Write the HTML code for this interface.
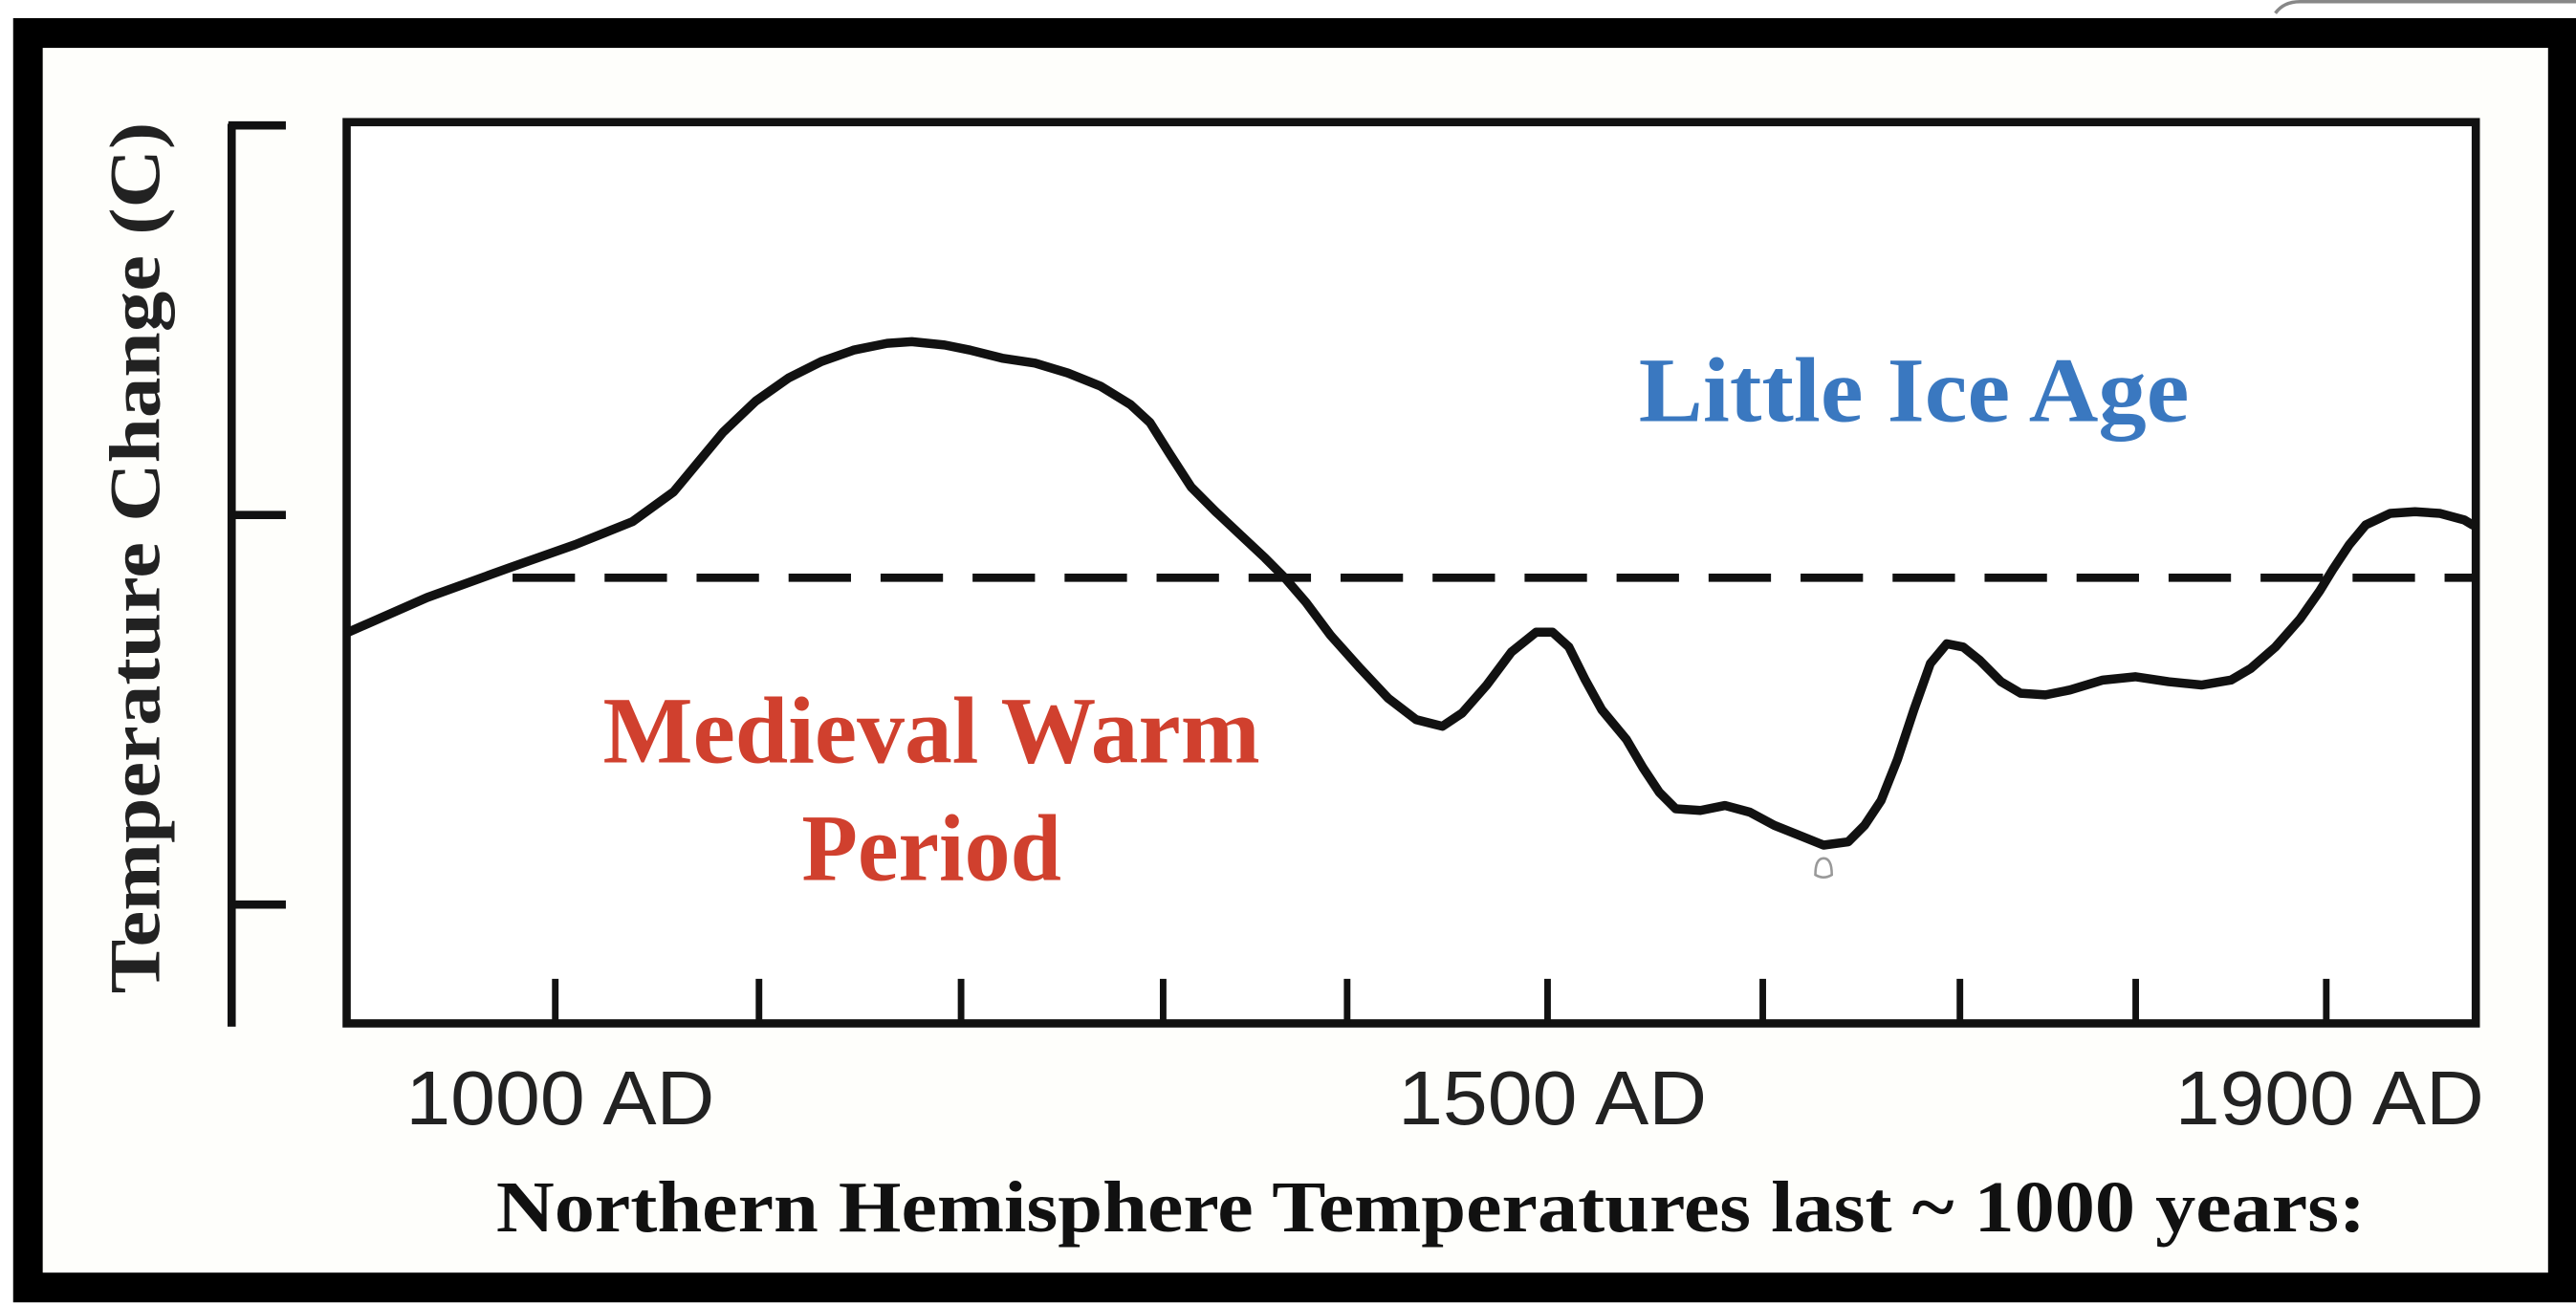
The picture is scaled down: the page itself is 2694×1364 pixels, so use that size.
<!DOCTYPE html>
<html><head><meta charset="utf-8"><style>
html,body{margin:0;padding:0;background:#fff;}
svg{display:block}
</style></head><body>
<svg width="2694" height="1364" viewBox="0 0 1568 790" preserveAspectRatio="none" xmlns="http://www.w3.org/2000/svg">
<rect x="0" y="0" width="1568" height="790" fill="#fff"/>
<path d="M1385 8 Q1390 1 1400 1 L1568 1" fill="none" stroke="#888" stroke-width="2"/>
<rect x="17" y="20" width="1543" height="760" fill="#fefefb" stroke="#000" stroke-width="18"/>
<rect x="211" y="74" width="1296" height="546" fill="#fff" stroke="#111" stroke-width="5"/>
<path d="M141 75 V622 M139 76 H174 M141 312 H174 M141 548 H174" stroke="#111" stroke-width="5" fill="none"/>
<path d="M338 620 V593 M462 620 V593 M585 620 V593 M708 620 V593 M820 620 V593 M942 620 V593 M1073 620 V593 M1193 620 V593 M1300 620 V593 M1416 620 V593" stroke="#111" stroke-width="4"/>
<line x1="312" y1="350" x2="1507" y2="350" stroke="#111" stroke-width="5" stroke-dasharray="38,18"/>
<polyline fill="none" stroke="#111" stroke-width="5.5" stroke-linejoin="round" stroke-linecap="round" points="212,383 260,362 310,344 350,330 385,316 410,298 425,280 440,262 460,243 480,229 500,219 520,212 540,208 555,207 575,209 590,212 610,217 630,220 650,226 670,234 688,245 700,256 712,275 725,295 740,310 755,324 770,338 782,350 795,365 810,385 828,405 845,423 862,436 878,440 890,432 905,415 920,395 935,383 945,383 955,392 965,412 975,430 990,448 1000,465 1010,480 1020,490 1035,491 1050,488 1065,492 1080,500 1095,506 1110,512 1125,510 1135,500 1145,485 1155,460 1165,430 1175,402 1185,390 1195,392 1205,400 1218,413 1230,420 1245,421 1260,418 1280,412 1300,410 1320,413 1340,415 1358,412 1370,405 1385,392 1400,375 1412,358 1420,345 1430,330 1440,318 1455,311 1470,310 1485,311 1500,315 1505,318"/>
<path d="M1105 530 q0-10 5-10 q5 0 5 10 q-5 3 -10 0z" fill="none" stroke="#999" stroke-width="1.5"/>
<text x="1165" y="255" text-anchor="middle" font-family="Liberation Serif, serif" font-weight="bold" font-size="56" fill="#3a78c0" textLength="335" lengthAdjust="spacingAndGlyphs">Little Ice Age</text>
<text x="567" y="462" text-anchor="middle" font-family="Liberation Serif, serif" font-weight="bold" font-size="58" fill="#d0402e" textLength="400" lengthAdjust="spacingAndGlyphs">Medieval Warm</text>
<text x="567" y="533" text-anchor="middle" font-family="Liberation Serif, serif" font-weight="bold" font-size="58" fill="#d0402e" textLength="158" lengthAdjust="spacingAndGlyphs">Period</text>
<g font-family="Liberation Sans, sans-serif" font-size="46" fill="#222">
<text x="341" y="681" text-anchor="middle" textLength="188" lengthAdjust="spacingAndGlyphs">1000 AD</text>
<text x="945" y="681" text-anchor="middle" textLength="188" lengthAdjust="spacingAndGlyphs">1500 AD</text>
<text x="1418" y="681" text-anchor="middle" textLength="188" lengthAdjust="spacingAndGlyphs">1900 AD</text>
</g>
<text x="871" y="746" text-anchor="middle" font-family="Liberation Serif, serif" font-weight="bold" font-size="44" fill="#111" textLength="1138" lengthAdjust="spacingAndGlyphs">Northern Hemisphere Temperatures last ~ 1000 years:</text>
<text transform="translate(97,338) rotate(-90)" text-anchor="middle" font-family="Liberation Serif, serif" font-weight="bold" font-size="44" fill="#222" textLength="528" lengthAdjust="spacingAndGlyphs">Temperature Change (C)</text>
</svg>
</body></html>
